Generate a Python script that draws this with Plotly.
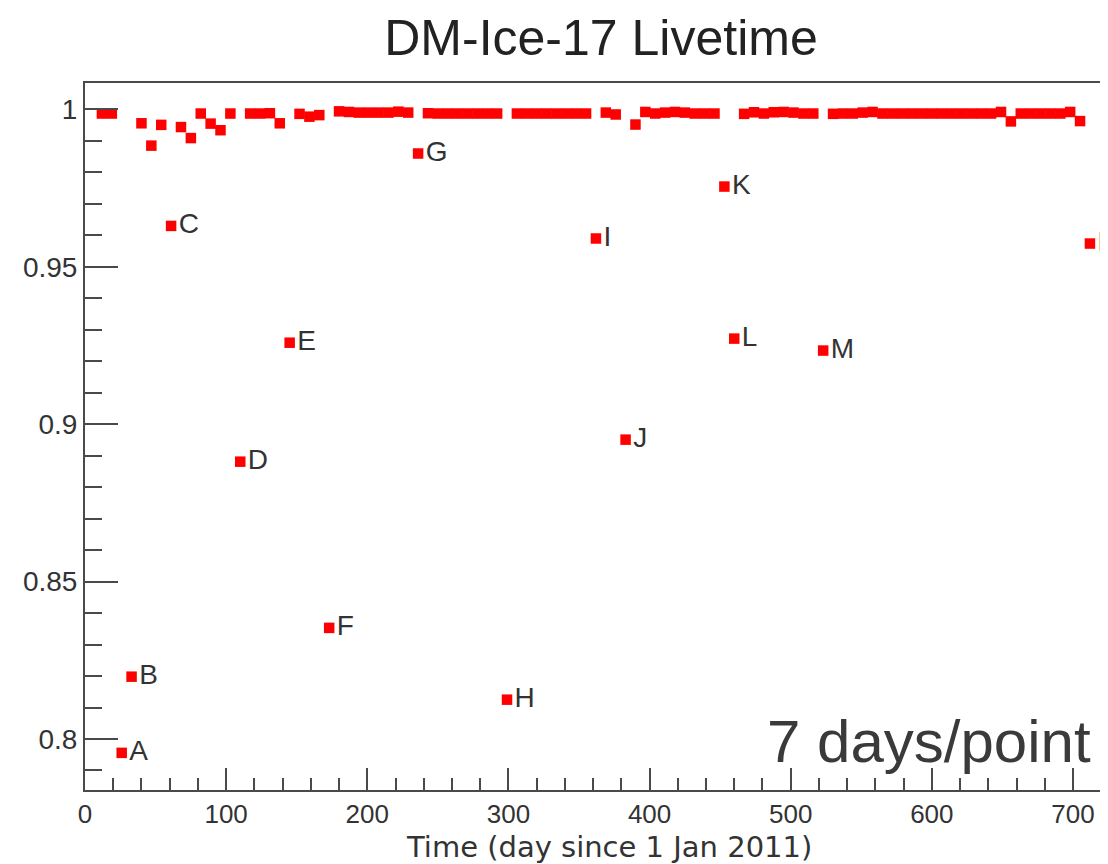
import plotly.graph_objects as go

# Weekly livetime points near 1 (unlabelled)
top_days = [12, 19, 40, 47, 54, 68, 75, 82, 89, 96, 103, 117, 124, 131, 138,
            152, 159, 166, 180, 187, 194, 201, 208, 215, 222, 229,
            243, 250, 257, 264, 271, 278, 285, 292,
            306, 313, 320, 327, 334, 341, 348, 355, 369, 376, 390,
            397, 404, 411, 418, 425, 432, 439, 446,
            467, 474, 481, 488, 495, 502, 509, 516,
            530, 537, 544, 551, 558, 565, 572, 579, 586, 593, 600, 607, 614,
            621, 628, 635, 642, 649, 656, 663, 670, 677, 684, 691, 698, 705]
top_vals = [0.9987, 0.9987, 0.9956, 0.9885, 0.9951, 0.9944, 0.9909, 0.9987, 0.9955,
            0.9934, 0.9987, 0.9987, 0.9987, 0.9988, 0.9956,
            0.9986, 0.9977, 0.9982, 0.9994, 0.9992, 0.9990, 0.9990, 0.9990, 0.9990,
            0.9993, 0.9990,
            0.9988, 0.9987, 0.9987, 0.9987, 0.9987, 0.9987, 0.9987, 0.9987,
            0.9987, 0.9987, 0.9987, 0.9987, 0.9987, 0.9987, 0.9987, 0.9987,
            0.9990, 0.9984, 0.9952,
            0.9992, 0.9987, 0.9990, 0.9992, 0.9990, 0.9987, 0.9987, 0.9987,
            0.9986, 0.9991, 0.9987, 0.9991, 0.9992, 0.9990, 0.9987, 0.9987,
            0.9986, 0.9987, 0.9987, 0.9990, 0.9992, 0.9987, 0.9987, 0.9987, 0.9987,
            0.9987, 0.9987, 0.9987, 0.9987, 0.9987, 0.9987, 0.9987, 0.9987,
            0.9992, 0.9962, 0.9987, 0.9987, 0.9987, 0.9987, 0.9987, 0.9992, 0.9963]

# Labelled low-livetime weeks
lab_days = [26, 33, 61, 110, 145, 173, 236, 299, 362, 383, 453, 460, 523, 712]
lab_vals = [0.7956, 0.8198, 0.9630, 0.8881, 0.9259, 0.8353, 0.9860, 0.8125,
            0.9590, 0.8951, 0.9755, 0.9272, 0.9234, 0.9574]
lab_text = ["A", "B", "C", "D", "E", "F", "G", "H", "I", "J", "K", "L", "M", "N"]

x_ticks = [0, 100, 200, 300, 400, 500, 600, 700]
y_ticks = [0.8, 0.85, 0.9, 0.95, 1.0]
y_tick_text = ["0.8", "0.85", "0.9", "0.95", "1"]

RED = "#ff0000"
AX = "#4a4a4a"
SANS = "Liberation Sans, Arial, sans-serif"

# page body has an 8px margin; figure is sized to fill the rest of the window
W, H = 1100, 856

fig = go.Figure()
fig.add_trace(go.Scatter(
    x=top_days, y=top_vals, mode="markers",
    marker=dict(symbol="square", size=10.5, color=RED, line=dict(width=0)),
    showlegend=False, cliponaxis=True))
fig.add_trace(go.Scatter(
    x=lab_days, y=lab_vals, mode="markers+text", text=lab_text,
    textposition="middle right",
    textfont=dict(family=SANS, size=28, color="#333333"),
    marker=dict(symbol="square", size=10.5, color=RED, line=dict(width=0)),
    showlegend=False, cliponaxis=True))

fig.add_annotation(text="7 days/point", xref="paper", yref="paper",
                   x=0.9853, y=0.068, xanchor="right", yanchor="middle",
                   showarrow=False,
                   font=dict(family=SANS, size=60, color="#3a3a3a"))
fig.add_annotation(text="Time (day since 1 Jan 2011)", xref="paper", yref="paper",
                   x=0.5122, y=-0.081, xanchor="center", yanchor="middle",
                   showarrow=False,
                   font=dict(family="DejaVu Sans, sans-serif", size=29, color="#333333"))

fig.update_layout(
    width=W, height=H,
    margin=dict(l=77, r=0, t=75, b=74, pad=0),
    paper_bgcolor="white", plot_bgcolor="white",
    title=dict(text="DM-Ice-17 Livetime", x=593 / W, xref="container",
               xanchor="center", y=1 - 29 / H, yanchor="middle", yref="container",
               font=dict(family=SANS, size=50, color="#222222")),
    xaxis=dict(range=[0, 724.8], tickvals=x_ticks, showgrid=False, zeroline=False,
               showline=True, linecolor=AX, linewidth=2, mirror=True,
               ticks="inside", ticklen=22, tickwidth=1.5, tickcolor=AX,
               minor=dict(dtick=20, tick0=0, ticks="inside", ticklen=12,
                          tickwidth=1.5, tickcolor=AX, showgrid=False),
               tickfont=dict(family=SANS, size=26, color="#333333")),
    yaxis=dict(range=[0.7838, 1.0084], tickvals=y_ticks, ticktext=y_tick_text,
               showgrid=False, zeroline=False,
               showline=True, linecolor=AX, linewidth=2, mirror=False,
               ticks="inside", ticklen=33, tickwidth=1.5, tickcolor=AX,
               minor=dict(dtick=0.01, tick0=0.8, ticks="inside", ticklen=17,
                          tickwidth=1.5, tickcolor=AX, showgrid=False),
               tickfont=dict(family=SANS, size=28, color="#333333")),
)

fig.write_html("out.html")
